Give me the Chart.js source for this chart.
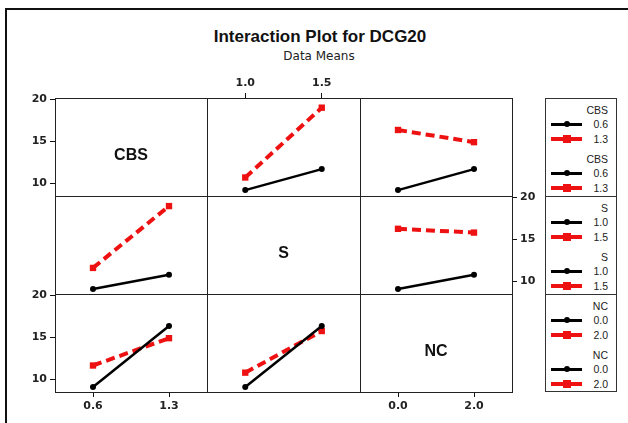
<!DOCTYPE html>
<html>
<head>
<meta charset="utf-8">
<script src="https://cdn.jsdelivr.net/npm/chart.js@4/dist/chart.umd.min.js"></script>
<style>
  html, body { margin: 0; padding: 0; background: #fff; }
  body { width: 628px; height: 423px; position: relative; overflow: hidden; }
  .frame { position: absolute; left: 5px; top: 8px; width: 700px; height: 500px;
           border-left: 2px solid #111; border-top: 2px solid #111; }
  .title { position: absolute; left: 0; width: 640px; text-align: center; top: 27px;
           font: bold 17px "Liberation Sans", sans-serif; color: #111; }
  .subtitle { position: absolute; left: 0; width: 638px; text-align: center; top: 49px;
              font: 12px "DejaVu Sans", sans-serif; color: #222; }
  canvas.cell { position: absolute; }
  .legend { position: absolute; left: 545px; top: 98px; width: 72px; height: 294px;
            border: 1px solid #333; box-sizing: border-box; }
  .lsec { position: absolute; left: 0; width: 70px; height: 98px; }
  .lsec + .lsec { border-top: 1px solid #333; }
  .ltxt { position: absolute; right: 8px; font: 10.5px "Liberation Sans", sans-serif; color: #222;
          line-height: 12px; }
  .lline { position: absolute; left: 5px; width: 31px; }
  .lmark { position: absolute; }
</style>
</head>
<body>
<div class="frame"></div>
<div class="title">Interaction Plot for DCG20</div>
<div class="subtitle">Data Means</div>
<div class="legend" id="legend"></div>
<script>
// factor names and levels
const factors = ['CBS', 'S', 'NC'];
const cbsLevels = [0.6, 1.3];
const sLevels = [1.0, 1.5];
const ncLevels = [0.0, 2.0];
const levels = [cbsLevels, sLevels, ncLevels];

// axis settings
const yMin = 8.5, yMax = 20.15;
const yTickValues = [10, 15, 20];
const xRanges = [[0.25, 1.65], [0.75, 1.75], [-1, 3]];

// means: row factor = trace, column factor = x
// row CBS
const cbsLow_vsS = [9.2, 11.7];
const cbsHigh_vsS = [10.7, 19.0];
const cbsLow_vsNC = [9.2, 11.7];
const cbsHigh_vsNC = [16.35, 14.9];
// row S
const sLow_vsCBS = [9.1, 10.8];
const sHigh_vsCBS = [11.6, 18.95];
const sLow_vsNC = [9.1, 10.8];
const sHigh_vsNC = [16.25, 15.8];
// row NC
const ncLow_vsCBS = [9.1, 16.35];
const ncHigh_vsCBS = [11.65, 14.9];
const ncLow_vsS = [9.1, 16.35];
const ncHigh_vsS = [10.8, 15.75];

const cellData = {
  '0,1': [cbsLow_vsS, cbsHigh_vsS],
  '0,2': [cbsLow_vsNC, cbsHigh_vsNC],
  '1,0': [sLow_vsCBS, sHigh_vsCBS],
  '1,2': [sLow_vsNC, sHigh_vsNC],
  '2,0': [ncLow_vsCBS, ncHigh_vsCBS],
  '2,1': [ncLow_vsS, ncHigh_vsS]
};

// which cell carries which axis
const xAxisCells = {'0,1': 'top', '2,0': 'bottom', '2,2': 'bottom'};
const yAxisCells = {'0,0': 'left', '1,2': 'right', '2,0': 'left'};

const colEdges = [55, 207, 360, 512];
const rowEdges = [98, 196, 294, 392];
const P = 45;

const RED = '#ee1111';
const tickFont = {family: 'DejaVu Sans', size: 11, weight: 'bold'};

const framePlugin = {
  id: 'frame',
  afterDraw(chart) {
    const a = chart.chartArea;
    const ctx = chart.ctx;
    ctx.save();
    ctx.strokeStyle = '#222';
    ctx.lineWidth = 1;
    ctx.strokeRect(Math.round(a.left) + 0.5, Math.round(a.top) + 0.5,
                   Math.round(a.right - a.left), Math.round(a.bottom - a.top));
    const label = chart.options.plugins.frame.label;
    if (label) {
      ctx.fillStyle = '#111';
      ctx.font = 'bold 16px "Liberation Sans"';
      ctx.textAlign = 'center';
      ctx.textBaseline = 'middle';
      ctx.fillText(label, (a.left + a.right) / 2, (a.top + a.bottom) / 2 + 9);
    }
    ctx.restore();
  }
};

function makeCell(r, c) {
  const key = r + ',' + c;
  const canvas = document.createElement('canvas');
  canvas.className = 'cell';
  const w = colEdges[c + 1] - colEdges[c] + 2 * P;
  const h = rowEdges[r + 1] - rowEdges[r] + 2 * P;
  canvas.width = w;
  canvas.height = h;
  canvas.style.left = (colEdges[c] - P) + 'px';
  canvas.style.top = (rowEdges[r] - P) + 'px';
  canvas.style.width = w + 'px';
  canvas.style.height = h + 'px';
  document.body.appendChild(canvas);

  const xPos = xAxisCells[key];
  const yPos = yAxisCells[key];
  const datasets = [];
  if (cellData[key]) {
    const [low, high] = cellData[key];
    const xs = levels[c];
    datasets.push({
      data: xs.map((x, i) => ({x: x, y: low[i]})),
      borderColor: '#000', backgroundColor: '#000', borderWidth: 2.5,
      pointStyle: 'circle', pointRadius: 3, pointBorderWidth: 0
    });
    datasets.push({
      data: xs.map((x, i) => ({x: x, y: high[i]})),
      borderColor: RED, backgroundColor: RED, borderWidth: 4, borderDash: [9, 5],
      pointStyle: 'rect', pointRadius: 4.5, pointBorderWidth: 0
    });
  }

  new Chart(canvas, {
    type: 'line',
    data: {datasets: datasets},
    options: {
      responsive: false,
      animation: false,
      devicePixelRatio: 1,
      layout: {padding: {
        left: yPos === 'left' ? 0 : P,
        right: yPos === 'right' ? 0 : P,
        top: xPos === 'top' ? 0 : P,
        bottom: xPos === 'bottom' ? 0 : P
      }},
      plugins: {legend: {display: false}, tooltip: {enabled: false},
                frame: {label: r === c ? factors[r] : null}},
      scales: {
        x: {
          type: 'linear', min: xRanges[c][0], max: xRanges[c][1],
          display: !!xPos, position: xPos || 'bottom',
          afterBuildTicks: s => { s.ticks = levels[c].map(v => ({value: v})); },
          afterFit: s => { s.height = xPos ? P : 0; },
          grid: {drawOnChartArea: false, tickLength: 5, color: '#111'},
          border: {display: false},
          ticks: {font: tickFont, color: '#222', padding: 3, maxRotation: 0, autoSkip: false,
                  callback: v => Number(v).toFixed(1)}
        },
        y: {
          type: 'linear', min: yMin, max: yMax,
          display: !!yPos, position: yPos || 'left',
          afterBuildTicks: s => { s.ticks = yTickValues.map(v => ({value: v})); },
          afterFit: s => { s.width = yPos ? P : 0; },
          grid: {drawOnChartArea: false, tickLength: 5, color: '#111'},
          border: {display: false},
          ticks: {font: tickFont, color: '#222', padding: 3, autoSkip: false}
        }
      }
    },
    plugins: [framePlugin]
  });
}

for (let r = 0; r < 3; r++) {
  for (let c = 0; c < 3; c++) makeCell(r, c);
}

// legend: each row factor listed twice, as in the original
const legend = document.getElementById('legend');
const rowOffsets = [11, 60];
factors.forEach((name, i) => {
  const sec = document.createElement('div');
  sec.className = 'lsec';
  sec.style.top = (i * 98 - (i ? 1 : 0)) + 'px';
  rowOffsets.forEach(off => {
    const head = document.createElement('div');
    head.className = 'ltxt';
    head.style.top = (off - 6) + 'px';
    head.textContent = name;
    sec.appendChild(head);
    levels[i].forEach((lv, k) => {
      const y = off + 14 + k * 15;
      const line = document.createElement('div');
      line.className = 'lline';
      const th = k ? 4 : 3;
      line.style.top = (y - th / 2) + 'px';
      line.style.height = th + 'px';
      line.style.background = k ? RED : '#000';
      sec.appendChild(line);
      const mk = document.createElement('div');
      mk.className = 'lmark';
      const ms = k ? 8 : 6;
      mk.style.left = (20 - ms / 2 + 0.5) + 'px';
      mk.style.top = (y - ms / 2) + 'px';
      mk.style.width = ms + 'px';
      mk.style.height = ms + 'px';
      mk.style.background = k ? RED : '#000';
      mk.style.borderRadius = k ? '0' : '50%';
      sec.appendChild(mk);
      const t = document.createElement('div');
      t.className = 'ltxt';
      t.style.top = (y - 6) + 'px';
      t.textContent = lv.toFixed(1);
      sec.appendChild(t);
    });
  });
  legend.appendChild(sec);
});
</script>
</body>
</html>
